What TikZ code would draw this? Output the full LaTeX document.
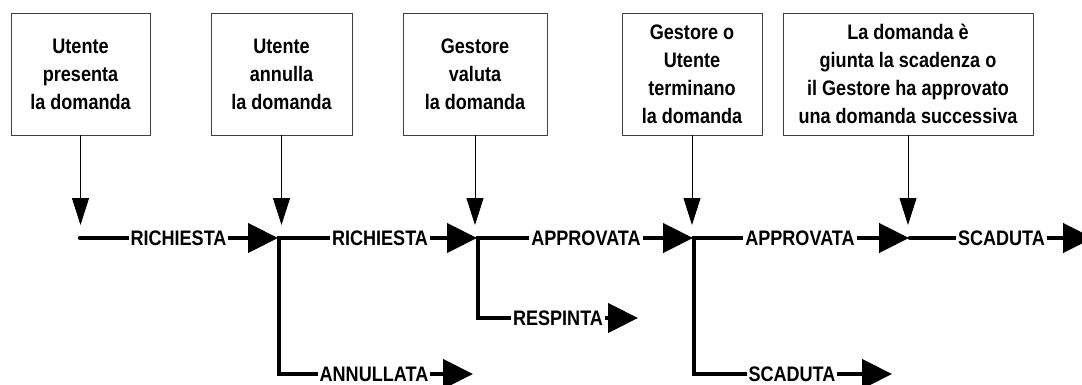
\documentclass[tikz,border=0pt]{standalone}
\usepackage{fontspec}
\setmainfont{Liberation Sans}[FakeStretch=0.86]
\usetikzlibrary{arrows.meta}
\begin{document}
\begin{tikzpicture}[x=1pt,y=-1pt,
  box/.style={draw=black!75, line width=0.8pt, minimum height=122pt, inner sep=0pt,
    align=center, font=\fontsize{21}{28}\selectfont\bfseries},
  flow/.style={line width=4.5pt, shorten >=1pt, -{Triangle[length=30pt,width=29pt]}},
  lab/.style={fill=white, inner xsep=2pt, inner ysep=0pt, font=\fontsize{21}{22}\selectfont\bfseries},
  feed/.style={line width=0.9pt, -{Triangle[length=27pt,width=17pt]}}]
\useasboundingbox (0,0) rectangle (1082,385);
% boxes
\node[box, minimum width=139pt] (b1) at (80.5,74) {Utente\\presenta\\la domanda};
\node[box, minimum width=141pt] (b2) at (281.5,74) {Utente\\annulla\\la domanda};
\node[box, minimum width=144pt] (b3) at (475,74) {Gestore\\valuta\\la domanda};
\node[box, minimum width=140pt] (b4) at (692,74) {Gestore o\\Utente\\terminano\\la domanda};
\node[box, minimum width=250pt] (b5) at (908,74) {La domanda è\\giunta la scadenza o\\il Gestore ha approvato\\una domanda successiva};
% coordinates
\coordinate (j0) at (80,238);
\coordinate (j1) at (279,238);
\coordinate (j2) at (478,238);
\coordinate (j3) at (694,238);
\coordinate (j4) at (910,238);
\coordinate (jend) at (1094,238);
\coordinate (t1) at (80.5,225);
\coordinate (t2) at (281.5,225);
\coordinate (t3) at (475,225);
\coordinate (t4) at (692,225);
\coordinate (t5) at (908,225);
\coordinate (c1) at (279,374);
\coordinate (e1) at (474,374);
\coordinate (c2) at (478,318);
\coordinate (e2) at (639,318);
\coordinate (c3) at (694,374);
\coordinate (e3) at (893,374);
% feed arrows
\draw[feed] (b1.south) -- (t1);
\draw[feed] (b2.south) -- (t2);
\draw[feed] (b3.south) -- (t3);
\draw[feed] (b4.south) -- (t4);
\draw[feed] (b5.south) -- (t5);
% main flow
\draw[flow, line cap=round] (j0) -- (j1);
\draw[flow] (j1) -- (j2);
\draw[flow] (j2) -- (j3);
\draw[flow] (j3) -- (j4);
\draw[flow, line cap=round] (j4) -- (jend);
% branches
\draw[flow, line cap=rect] (j1) -- (c1) -- (e1);
\draw[flow, line cap=rect] (j2) -- (c2) -- (e2);
\draw[flow, line cap=rect] (j3) -- (c3) -- (e3);
% labels
\node[lab] (l1) at (178.5,238) {RICHIESTA};
\node[lab] (l2) at (380,238) {RICHIESTA};
\node[lab] (l3) at (586,238) {APPROVATA};
\node[lab] (l4) at (800,238) {APPROVATA};
\node[lab] (l5) at (1001.5,238) {SCADUTA};
\node[lab] (l6) at (374,374) {ANNULLATA};
\node[lab] (l7) at (558,318) {RESPINTA};
\node[lab] (l8) at (792,374) {SCADUTA};
\end{tikzpicture}
\end{document}
